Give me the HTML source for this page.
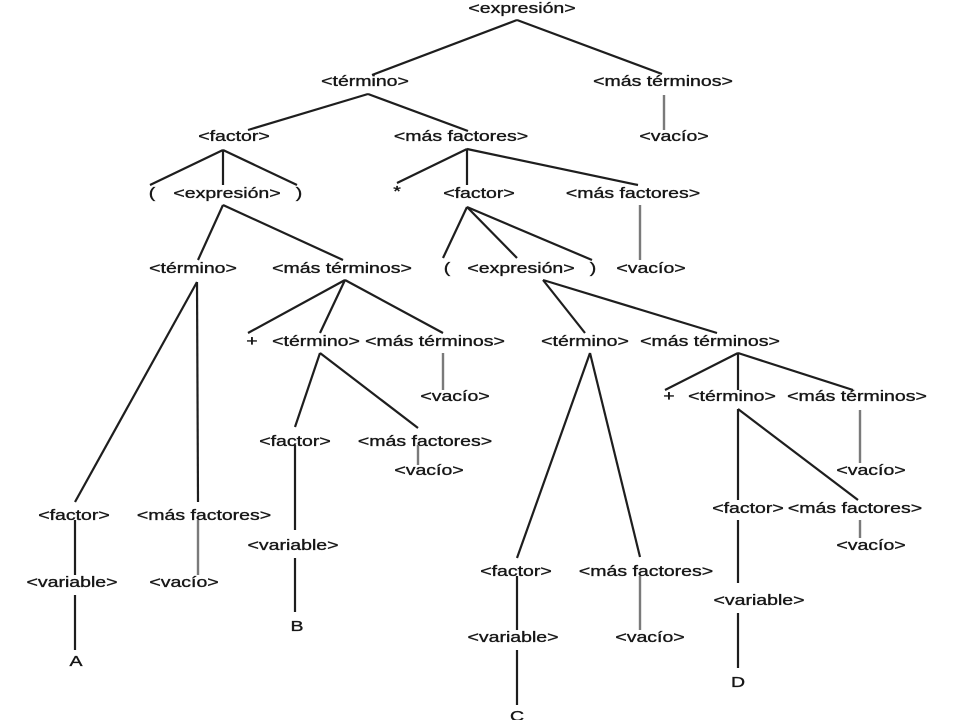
<!DOCTYPE html>
<html><head><meta charset="utf-8"><style>
html,body{margin:0;padding:0;background:#fff;}
svg{display:block;}
text{font-family:"Liberation Sans",Arial,sans-serif;font-size:15px;fill:#161616;stroke:#161616;stroke-width:0.35;text-anchor:middle;}
.l line{stroke:#1e1e1e;stroke-width:2.2;}
.g line{stroke:#7a7a7a;stroke-width:2.4;}
</style></head><body>
<svg width="960" height="720" viewBox="0 0 960 720" xmlns="http://www.w3.org/2000/svg">
<g>
<text transform="translate(522,13) scale(1.3,1)">&lt;expresión&gt;</text>
<text transform="translate(365,86) scale(1.3,1)">&lt;término&gt;</text>
<text transform="translate(663,86) scale(1.3,1)">&lt;más términos&gt;</text>
<text transform="translate(234,141) scale(1.3,1)">&lt;factor&gt;</text>
<text transform="translate(461,141) scale(1.3,1)">&lt;más factores&gt;</text>
<text transform="translate(674,141) scale(1.3,1)">&lt;vacío&gt;</text>
<text transform="translate(152,198) scale(1.3,1)">(</text>
<text transform="translate(227,198) scale(1.3,1)">&lt;expresión&gt;</text>
<text transform="translate(299,198) scale(1.3,1)">)</text>
<text transform="translate(397,196) scale(1.3,1)">*</text>
<text transform="translate(479,198) scale(1.3,1)">&lt;factor&gt;</text>
<text transform="translate(633,198) scale(1.3,1)">&lt;más factores&gt;</text>
<text transform="translate(193,273) scale(1.3,1)">&lt;término&gt;</text>
<text transform="translate(342,273) scale(1.3,1)">&lt;más términos&gt;</text>
<text transform="translate(447,273) scale(1.3,1)">(</text>
<text transform="translate(521,273) scale(1.3,1)">&lt;expresión&gt;</text>
<text transform="translate(593,273) scale(1.3,1)">)</text>
<text transform="translate(651,273) scale(1.3,1)">&lt;vacío&gt;</text>
<text transform="translate(252,346) scale(1.3,1)">+</text>
<text transform="translate(316,346) scale(1.3,1)">&lt;término&gt;</text>
<text transform="translate(435,346) scale(1.3,1)">&lt;más términos&gt;</text>
<text transform="translate(585,346) scale(1.3,1)">&lt;término&gt;</text>
<text transform="translate(710,346) scale(1.3,1)">&lt;más términos&gt;</text>
<text transform="translate(455,401) scale(1.3,1)">&lt;vacío&gt;</text>
<text transform="translate(669,401) scale(1.3,1)">+</text>
<text transform="translate(732,401) scale(1.3,1)">&lt;término&gt;</text>
<text transform="translate(857,401) scale(1.3,1)">&lt;más términos&gt;</text>
<text transform="translate(295,446) scale(1.3,1)">&lt;factor&gt;</text>
<text transform="translate(425,446) scale(1.3,1)">&lt;más factores&gt;</text>
<text transform="translate(429,475) scale(1.3,1)">&lt;vacío&gt;</text>
<text transform="translate(871,475) scale(1.3,1)">&lt;vacío&gt;</text>
<text transform="translate(748,513) scale(1.3,1)">&lt;factor&gt;</text>
<text transform="translate(855,513) scale(1.3,1)">&lt;más factores&gt;</text>
<text transform="translate(74,520) scale(1.3,1)">&lt;factor&gt;</text>
<text transform="translate(204,520) scale(1.3,1)">&lt;más factores&gt;</text>
<text transform="translate(293,550) scale(1.3,1)">&lt;variable&gt;</text>
<text transform="translate(871,550) scale(1.3,1)">&lt;vacío&gt;</text>
<text transform="translate(516,576) scale(1.3,1)">&lt;factor&gt;</text>
<text transform="translate(646,576) scale(1.3,1)">&lt;más factores&gt;</text>
<text transform="translate(72,587) scale(1.3,1)">&lt;variable&gt;</text>
<text transform="translate(184,587) scale(1.3,1)">&lt;vacío&gt;</text>
<text transform="translate(759,605) scale(1.3,1)">&lt;variable&gt;</text>
<text transform="translate(297,631) scale(1.3,1)">B</text>
<text transform="translate(513,642) scale(1.3,1)">&lt;variable&gt;</text>
<text transform="translate(650,642) scale(1.3,1)">&lt;vacío&gt;</text>
<text transform="translate(76,666) scale(1.3,1)">A</text>
<text transform="translate(738,687) scale(1.3,1)">D</text>
<text transform="translate(517,721) scale(1.3,1)">C</text>
</g>
<g class="l">
<line x1="517" y1="20" x2="372" y2="75"/><line x1="517" y1="20" x2="662" y2="74"/>
<line x1="368" y1="94" x2="248" y2="130"/><line x1="368" y1="94" x2="468" y2="131"/>
<line x1="223" y1="150" x2="150" y2="185"/><line x1="223" y1="150" x2="223" y2="185"/><line x1="223" y1="150" x2="297" y2="185"/>
<line x1="467" y1="149" x2="397" y2="183"/><line x1="467" y1="149" x2="467" y2="185"/><line x1="467" y1="149" x2="638" y2="185"/>
<line x1="223" y1="205" x2="198" y2="260"/><line x1="223" y1="205" x2="343" y2="260"/>
<line x1="467" y1="207" x2="443" y2="258"/><line x1="467" y1="207" x2="517" y2="258"/><line x1="467" y1="207" x2="592" y2="260"/>
<line x1="543" y1="280" x2="585" y2="333"/><line x1="543" y1="280" x2="717" y2="333"/>
<line x1="197" y1="282" x2="75" y2="502"/><line x1="197" y1="282" x2="198" y2="502"/>
<line x1="75" y1="520" x2="75" y2="575"/><line x1="75" y1="595" x2="75" y2="650"/>
<line x1="345" y1="280" x2="248" y2="333"/><line x1="345" y1="280" x2="320" y2="333"/><line x1="345" y1="280" x2="443" y2="333"/>
<line x1="320" y1="353" x2="295" y2="427"/><line x1="320" y1="353" x2="418" y2="428"/>
<line x1="295" y1="445" x2="295" y2="530"/><line x1="295" y1="558" x2="295" y2="612"/>
<line x1="590" y1="353" x2="517" y2="558"/><line x1="590" y1="353" x2="640" y2="557"/>
<line x1="517" y1="576" x2="517" y2="630"/><line x1="517" y1="650" x2="517" y2="705"/>
<line x1="738" y1="353" x2="665" y2="390"/><line x1="738" y1="353" x2="738" y2="390"/><line x1="738" y1="353" x2="853" y2="390"/>
<line x1="738" y1="409" x2="738" y2="500"/><line x1="738" y1="409" x2="858" y2="500"/>
<line x1="738" y1="520" x2="738" y2="583"/><line x1="738" y1="613" x2="738" y2="668"/>
</g>
<g class="g">
<line x1="664" y1="95" x2="664" y2="130"/>
<line x1="640" y1="205" x2="640" y2="260"/>
<line x1="198" y1="520" x2="198" y2="575"/>
<line x1="443" y1="353" x2="443" y2="390"/>
<line x1="418" y1="445" x2="418" y2="465"/>
<line x1="640" y1="576" x2="640" y2="630"/>
<line x1="860" y1="410" x2="860" y2="463"/>
<line x1="860" y1="520" x2="860" y2="538"/>
</g>
</svg>
</body></html>
